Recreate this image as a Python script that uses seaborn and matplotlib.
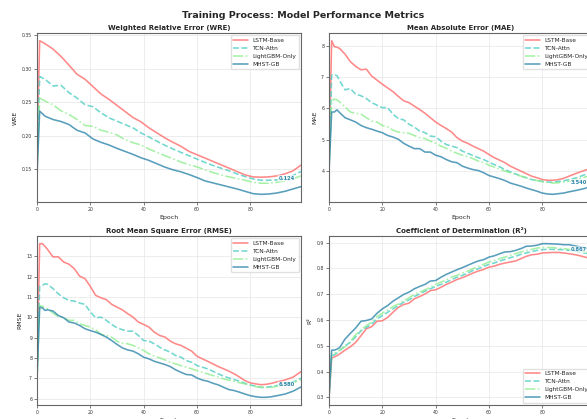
import matplotlib
matplotlib.use("Agg")
import matplotlib.pyplot as plt
import seaborn as sns

# model names + styles
models = ["LSTM-Base", "TCN-Attn", "LightGBM-Only", "MHST-GB"]
colors = ["#FF6B6B", "#4ECDC4", "#90EE90", "#2E86AB"]
styles = ["-", "--", "-.", "-"]

# epochs
epochs_wre = [0, 1, 3, 6, 9, 12, 15, 18, 21, 24, 27, 30, 33, 36, 39, 42, 45, 48, 51,
              54, 57, 60, 63, 66, 69, 72, 75, 78, 81, 84, 87, 90, 93, 96, 99]
epochs = [0, 1, 2, 3, 4, 6, 8, 10, 12, 14, 16, 18, 20, 22, 24, 26, 28, 30, 32, 34,
          36, 38, 40, 42, 44, 46, 48, 50, 52, 54, 56, 58, 60, 62, 64, 66, 68, 70,
          72, 74, 76, 78, 80, 82, 84, 86, 88, 90, 93, 96, 99]

# WRE
wre_lstm = [0.170, 0.3415, 0.337, 0.329, 0.318, 0.305, 0.2915, 0.284, 0.273, 0.262, 0.254,
            0.245, 0.236, 0.227, 0.2205, 0.2115, 0.204, 0.1965, 0.190, 0.184, 0.1765, 0.1715,
            0.1665, 0.1615, 0.1565, 0.1515, 0.1465, 0.1415, 0.1385, 0.138, 0.1385, 0.140,
            0.143, 0.1475, 0.156]
wre_tcn = [0.160, 0.288, 0.284, 0.274, 0.275, 0.264, 0.256, 0.246, 0.243, 0.234, 0.2265,
           0.2215, 0.2165, 0.2115, 0.204, 0.198, 0.1915, 0.1855, 0.180, 0.175, 0.170, 0.165,
           0.160, 0.1555, 0.1515, 0.1475, 0.143, 0.139, 0.1355, 0.1335, 0.1335, 0.134,
           0.1365, 0.1405, 0.1465]
wre_lgbm = [0.155, 0.256, 0.2515, 0.246, 0.237, 0.2315, 0.224, 0.215, 0.214, 0.208, 0.205,
            0.201, 0.194, 0.1895, 0.186, 0.180, 0.175, 0.170, 0.1655, 0.1605, 0.1565, 0.1535,
            0.149, 0.145, 0.1415, 0.1385, 0.136, 0.1335, 0.1305, 0.129, 0.129, 0.1305,
            0.1325, 0.1355, 0.140]
wre_mhst = [0.140, 0.2365, 0.229, 0.224, 0.221, 0.2165, 0.208, 0.204, 0.195, 0.190, 0.186,
            0.181, 0.1765, 0.172, 0.167, 0.163, 0.158, 0.153, 0.149, 0.146, 0.142, 0.1375,
            0.1325, 0.1295, 0.1265, 0.1235, 0.1205, 0.117, 0.1135, 0.1125, 0.113, 0.1145,
            0.117, 0.1205, 0.124]

# MAE
mae_lstm = [4.30, 8.16, 7.97, 7.95, 7.91, 7.73, 7.49, 7.34, 7.23, 7.25, 7.03, 6.90, 6.77,
            6.65, 6.53, 6.38, 6.24, 6.18, 6.07, 5.96, 5.84, 5.70, 5.56, 5.45, 5.35, 5.24,
            5.06, 4.95, 4.88, 4.79, 4.71, 4.63, 4.52, 4.42, 4.34, 4.26, 4.15, 4.07, 3.99,
            3.91, 3.83, 3.78, 3.72, 3.70, 3.70, 3.72, 3.76, 3.83, 3.93, 4.02, 4.10]
mae_tcn = [4.20, 7.06, 7.08, 7.04, 6.88, 6.59, 6.63, 6.45, 6.40, 6.31, 6.18, 6.10, 6.02,
           6.02, 5.81, 5.67, 5.63, 5.49, 5.40, 5.27, 5.22, 5.11, 5.09, 4.95, 4.84, 4.79,
           4.74, 4.63, 4.56, 4.49, 4.42, 4.36, 4.28, 4.20, 4.13, 4.04, 3.97, 3.90, 3.83,
           3.78, 3.72, 3.69, 3.66, 3.64, 3.64, 3.66, 3.68, 3.72, 3.78, 3.88, 3.95]
mae_lgbm = [4.10, 6.24, 6.29, 6.27, 6.20, 6.05, 5.88, 5.84, 5.81, 5.70, 5.59, 5.56, 5.45,
            5.41, 5.30, 5.24, 5.22, 5.20, 5.13, 5.06, 5.03, 4.95, 4.88, 4.79, 4.72, 4.63,
            4.56, 4.50, 4.45, 4.39, 4.31, 4.26, 4.18, 4.12, 4.06, 3.99, 3.94, 3.88, 3.83,
            3.78, 3.72, 3.69, 3.66, 3.64, 3.61, 3.62, 3.64, 3.67, 3.72, 3.80, 3.88]
mae_mhst = [3.95, 5.88, 5.88, 5.95, 5.86, 5.70, 5.63, 5.56, 5.45, 5.38, 5.33, 5.27, 5.22,
            5.13, 5.08, 5.01, 4.88, 4.79, 4.71, 4.71, 4.60, 4.60, 4.50, 4.45, 4.36, 4.29,
            4.26, 4.15, 4.09, 4.04, 4.01, 3.94, 3.85, 3.80, 3.75, 3.69, 3.61, 3.56, 3.51,
            3.45, 3.40, 3.35, 3.29, 3.26, 3.25, 3.27, 3.29, 3.33, 3.38, 3.44, 3.54]

# RMSE
rmse_lstm = [7.20, 13.62, 13.62, 13.49, 13.33, 12.97, 12.97, 12.72, 12.61, 12.39, 12.02,
             11.90, 11.52, 11.08, 10.96, 10.87, 10.64, 10.50, 10.37, 10.18, 10.01, 9.77,
             9.65, 9.52, 9.27, 9.11, 9.03, 8.83, 8.70, 8.62, 8.48, 8.34, 8.09, 7.96, 7.84,
             7.71, 7.58, 7.47, 7.35, 7.22, 7.06, 6.89, 6.78, 6.73, 6.69, 6.71, 6.76, 6.83,
             6.92, 7.06, 7.33]
rmse_tcn = [7.10, 11.52, 11.57, 11.65, 11.62, 11.41, 11.16, 10.96, 10.83, 10.80, 10.70,
            10.64, 10.26, 9.98, 10.01, 9.85, 9.65, 9.49, 9.39, 9.32, 9.32, 9.11, 8.86,
            8.83, 8.70, 8.53, 8.40, 8.29, 8.12, 8.04, 7.88, 7.79, 7.63, 7.55, 7.47, 7.35,
            7.22, 7.11, 7.02, 6.94, 6.86, 6.76, 6.68, 6.61, 6.56, 6.56, 6.60, 6.65, 6.73,
            6.81, 7.01]
rmse_lgbm = [7.00, 10.59, 10.54, 10.47, 10.42, 10.21, 10.04, 9.98, 9.85, 9.85, 9.68, 9.60,
             9.52, 9.39, 9.16, 9.11, 9.03, 8.83, 8.73, 8.70, 8.62, 8.50, 8.37, 8.21, 8.09,
             8.01, 7.91, 7.79, 7.71, 7.63, 7.55, 7.47, 7.38, 7.30, 7.22, 7.14, 7.06, 6.97,
             6.92, 6.86, 6.78, 6.73, 6.65, 6.60, 6.56, 6.56, 6.56, 6.61, 6.68, 6.78, 6.93]
rmse_mhst = [6.90, 10.50, 10.47, 10.34, 10.37, 10.31, 10.09, 9.98, 9.77, 9.72, 9.60, 9.44,
             9.35, 9.27, 9.16, 9.03, 8.86, 8.67, 8.50, 8.40, 8.34, 8.21, 8.04, 7.96, 7.84,
             7.76, 7.68, 7.58, 7.42, 7.30, 7.19, 7.17, 7.02, 6.92, 6.86, 6.76, 6.68, 6.56,
             6.45, 6.40, 6.32, 6.23, 6.15, 6.10, 6.07, 6.07, 6.10, 6.15, 6.23, 6.37, 6.58]

# R2
r2_lstm = [0.300, 0.452, 0.457, 0.462, 0.468, 0.483, 0.496, 0.513, 0.539, 0.566, 0.574,
           0.595, 0.597, 0.610, 0.630, 0.649, 0.660, 0.665, 0.682, 0.691, 0.701, 0.714,
           0.717, 0.727, 0.738, 0.747, 0.757, 0.764, 0.773, 0.782, 0.790, 0.796, 0.805,
           0.809, 0.816, 0.821, 0.825, 0.829, 0.838, 0.847, 0.853, 0.855, 0.860, 0.861,
           0.862, 0.862, 0.860, 0.857, 0.852, 0.844, 0.836]
r2_tcn = [0.300, 0.461, 0.465, 0.472, 0.481, 0.500, 0.513, 0.535, 0.558, 0.571, 0.584,
          0.604, 0.617, 0.630, 0.643, 0.656, 0.669, 0.678, 0.691, 0.701, 0.712, 0.721,
          0.730, 0.738, 0.747, 0.756, 0.766, 0.773, 0.782, 0.792, 0.799, 0.808, 0.816,
          0.821, 0.829, 0.835, 0.842, 0.847, 0.855, 0.860, 0.865, 0.870, 0.873, 0.874,
          0.874, 0.873, 0.873, 0.870, 0.866, 0.860, 0.853]
r2_lgbm = [0.300, 0.468, 0.470, 0.476, 0.483, 0.496, 0.517, 0.543, 0.561, 0.578, 0.591,
           0.613, 0.626, 0.639, 0.652, 0.662, 0.675, 0.686, 0.699, 0.708, 0.717, 0.727,
           0.738, 0.747, 0.756, 0.766, 0.773, 0.782, 0.790, 0.799, 0.808, 0.816, 0.825,
           0.831, 0.838, 0.844, 0.851, 0.857, 0.864, 0.868, 0.874, 0.879, 0.881, 0.881,
           0.881, 0.878, 0.877, 0.874, 0.870, 0.864, 0.857]
r2_mhst = [0.300, 0.483, 0.483, 0.487, 0.493, 0.526, 0.548, 0.569, 0.595, 0.598, 0.604,
           0.626, 0.643, 0.656, 0.673, 0.686, 0.699, 0.708, 0.721, 0.730, 0.738, 0.751,
           0.753, 0.766, 0.777, 0.786, 0.795, 0.803, 0.812, 0.821, 0.829, 0.834, 0.844,
           0.849, 0.857, 0.864, 0.865, 0.870, 0.877, 0.886, 0.887, 0.890, 0.896, 0.896,
           0.895, 0.894, 0.892, 0.892, 0.886, 0.879, 0.867]

titles = ["Weighted Relative Error (WRE)", "Mean Absolute Error (MAE)",
          "Root Mean Square Error (RMSE)", "Coefficient of Determination (R²)"]
ylabels = ["WRE", "MAE", "RMSE", "R²"]
panels = [
    (epochs_wre, [wre_lstm, wre_tcn, wre_lgbm, wre_mhst]),
    (epochs, [mae_lstm, mae_tcn, mae_lgbm, mae_mhst]),
    (epochs, [rmse_lstm, rmse_tcn, rmse_lgbm, rmse_mhst]),
    (epochs, [r2_lstm, r2_tcn, r2_lgbm, r2_mhst]),
]
legend_locs = ["upper right", "upper right", "upper right", "lower right"]
label_dy = [6.0, 2.0, 1.5, 1.2]

sns.set_style("whitegrid")
plt.rcParams.update({
    "axes.edgecolor": "#666666",
    "axes.linewidth": 0.8,
    "grid.color": "#e6e6e6",
    "grid.linewidth": 0.5,
    "xtick.bottom": True,
    "ytick.left": True,
    "xtick.major.size": 2,
    "ytick.major.size": 2,
    "xtick.major.width": 0.6,
    "ytick.major.width": 0.6,
    "xtick.color": "#666666",
    "ytick.color": "#666666",
    "xtick.labelcolor": "#333333",
    "ytick.labelcolor": "#333333",
    "xtick.major.pad": 1.5,
    "ytick.major.pad": 1.5,
})

fig = plt.figure(figsize=(5.87, 4.19), dpi=100)
W, H = 587, 419
boxes = [(37, 33), (329, 33), (37, 236), (329, 236)]
aw, ah = 264, 169

for i, (left, top) in enumerate(boxes):
    ax = fig.add_axes([left / W, (H - top - ah) / H, aw / W, ah / H])
    xs, series = panels[i]
    for name, vals, c, ls in zip(models, series, colors, styles):
        sns.lineplot(x=xs, y=vals, ax=ax, color=c, linestyle=ls, linewidth=1.15,
                     alpha=0.8, label=name)
    ax.set_xlim(0, 99)
    ax.set_xticks([0, 20, 40, 60, 80])
    ax.tick_params(labelsize=3.3)
    ax.set_title(titles[i], fontsize=5.0, fontweight="bold", pad=2)
    ax.set_xlabel("Epoch", fontsize=4.5, labelpad=2)
    ax.set_ylabel(ylabels[i], fontsize=4.5, labelpad=3)
    for sp in ax.spines.values():
        sp.set_visible(True)
    ax.legend(loc=legend_locs[i], fontsize=4.2, frameon=True, framealpha=0.9,
              edgecolor="#dddddd", borderaxespad=0.4, handlelength=2.5)
    final = series[3][-1]
    ax.annotate(f"{final:.3f}", xy=(xs[-1], final), xytext=(-10.5, label_dy[i]),
                textcoords="offset points", ha="center", va="center",
                fontsize=3.7, fontweight="bold", color="#2E86AB",
                bbox=dict(boxstyle="round,pad=0.15", fc="white", ec="none", alpha=0.7))

fig.suptitle("Training Process: Model Performance Metrics", fontsize=6.8,
             fontweight="bold", x=303 / W, y=1 - 15 / H, va="center")

fig.savefig("out.png", dpi=100)
